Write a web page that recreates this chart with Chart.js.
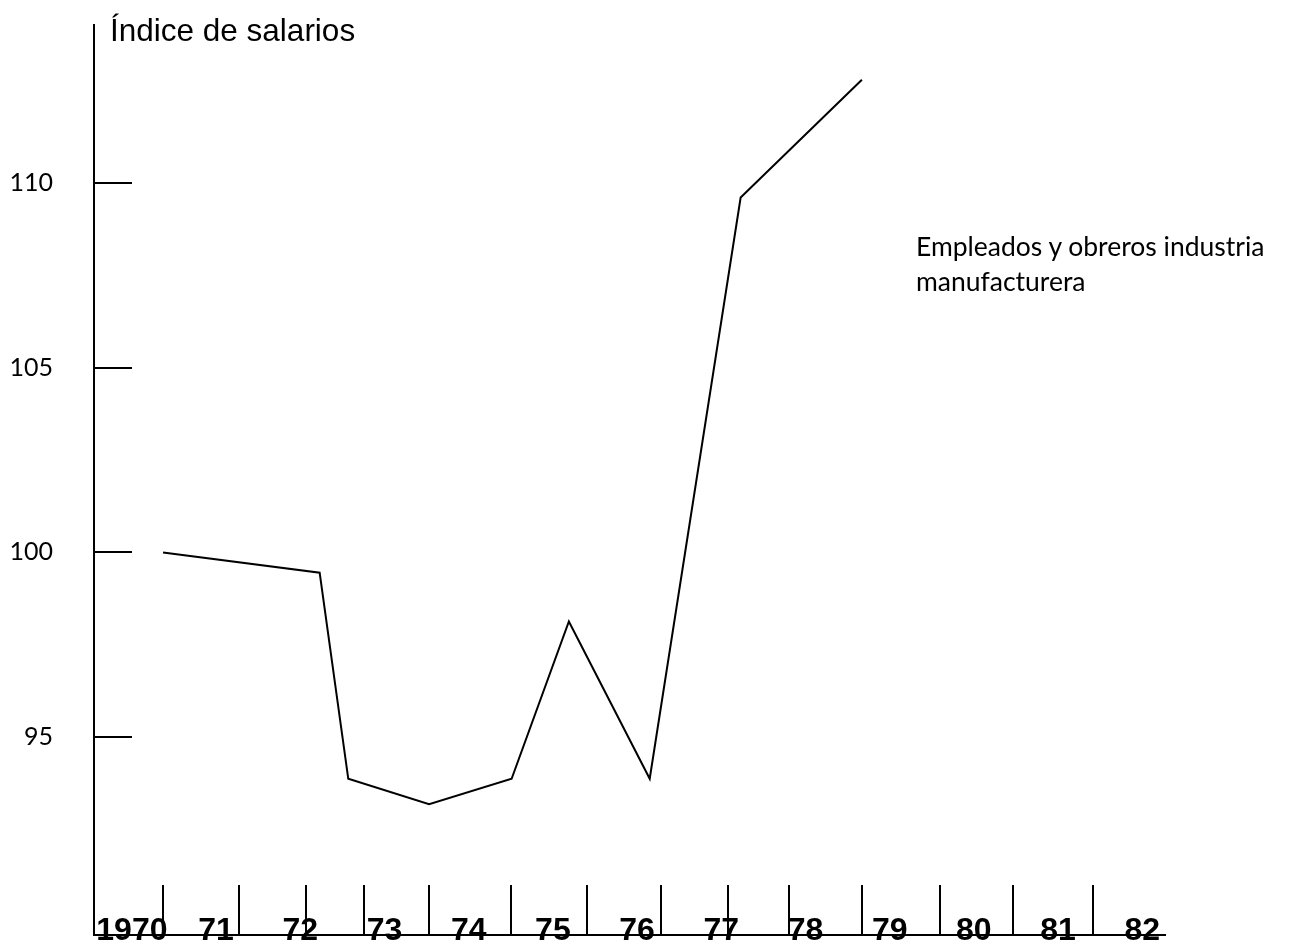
<!DOCTYPE html>
<html>
<head>
<meta charset="utf-8">
<script src="https://cdn.jsdelivr.net/npm/chart.js@4/dist/chart.umd.min.js"></script>
<style>
  body { margin: 0; background: #fff; }
  #caja { position: relative; width: 1293px; height: 944px; }
  #titulo { position: absolute; left: 110px; top: 15px; font: 31.5px/31px "Liberation Sans", Arial, sans-serif; color: #000; white-space: nowrap; }
  #nota { position: absolute; left: 916px; top: 229px; font: 26.5px/35px Lato, sans-serif; color: #000; white-space: nowrap; }
</style>
</head>
<body>
<div id="caja">
  <canvas id="chart" width="1293" height="944"></canvas>
  <div id="titulo">Índice de salarios</div>
  <div id="nota">Empleados y obreros industria<br>manufacturera</div>
</div>
<script>
const xLabels = ["1970", "71", "72", "73", "74", "75", "76", "77", "78", "79", "80", "81", "82"];
const labelYears = [1970, 1971, 1972, 1973, 1974, 1975, 1976, 1977, 1978, 1979, 1980, 1981, 1982];
// marcas del eje x, dibujadas a mano (no coinciden con los años)
const tickMarkYears = [1970.37, 1971.27, 1972.07, 1972.76, 1973.53, 1974.50, 1975.40, 1976.28, 1977.08, 1977.81, 1978.67, 1979.60, 1980.46, 1981.42];
const yTicks = [95, 100, 105, 110];

const serieYears = [1970.37, 1972.23, 1972.57, 1973.53, 1974.51, 1975.19, 1976.15, 1977.23, 1978.67];
const serieValues = [100.0, 99.45, 93.87, 93.18, 93.87, 98.13, 93.87, 109.61, 112.8];

const ctx = document.getElementById("chart").getContext("2d");

const data = {
  datasets: [{
    label: "Empleados y obreros industria manufacturera",
    data: serieYears.map((x, i) => ({ x: x, y: serieValues[i] })),
    borderColor: "#000",
    borderWidth: 2,
    pointRadius: 0,
    tension: 0,
    fill: false,
    xAxisID: "x",
    yAxisID: "y"
  }]
};

const sinRelleno = (scale) => {
  scale.paddingTop = 0;
  scale.paddingBottom = 0;
  scale.paddingLeft = 0;
  scale.paddingRight = 0;
};

const config = {
  type: "line",
  data: data,
  options: {
    responsive: false,
    animation: false,
    layout: { padding: { left: 0, top: 25, right: 128, bottom: 9 } },
    plugins: {
      legend: { display: false },
      tooltip: { enabled: false }
    },
    scales: {
      x: {
        type: "linear",
        position: "bottom",
        min: 1969.55,
        max: 1982.27,
        afterBuildTicks: (scale) => { scale.ticks = labelYears.map(v => ({ value: v })); },
        afterFit: (scale) => { scale.height = 0; sinRelleno(scale); },
        grid: { display: false },
        border: { display: true, color: "#000", width: 2 },
        ticks: {
          autoSkip: false,
          maxRotation: 0,
          mirror: true,
          padding: -15,
          color: "#000",
          font: { family: "'Liberation Sans', Arial", size: 32, weight: "bold" },
          callback: (v, i) => xLabels[i]
        }
      },
      marcas: {
        type: "linear",
        position: "bottom",
        min: 1969.55,
        max: 1982.27,
        afterBuildTicks: (scale) => { scale.ticks = tickMarkYears.map(v => ({ value: v })); },
        afterFit: (scale) => { scale.height = 0; sinRelleno(scale); },
        ticks: { display: false },
        border: { display: false },
        grid: { drawOnChartArea: false, drawTicks: true, tickLength: -50, color: "#000", lineWidth: 2 }
      },
      y: {
        type: "linear",
        min: 89.64,
        max: 114.28,
        afterBuildTicks: (scale) => { scale.ticks = yTicks.map(v => ({ value: v })); },
        afterFit: (scale) => { scale.width = 94; sinRelleno(scale); },
        border: { display: true, color: "#000", width: 2 },
        grid: { drawOnChartArea: false, drawTicks: true, tickLength: -38, color: "#000", lineWidth: 2 },
        ticks: {
          padding: 79,
          color: "#000",
          font: { family: "Lato", size: 25 }
        }
      }
    }
  }
};

const chart = new Chart(ctx, config);
</script>
</body>
</html>
